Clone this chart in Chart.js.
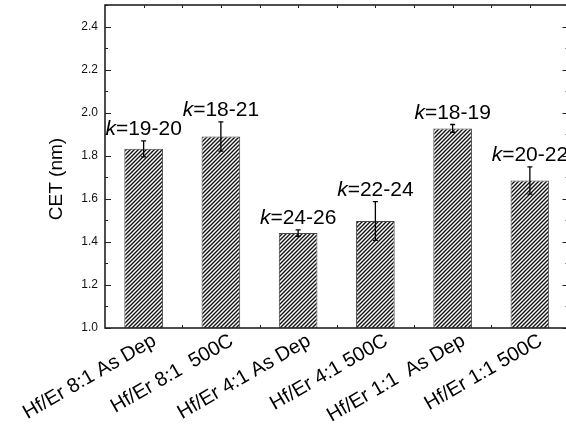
<!DOCTYPE html>
<html>
<head>
<meta charset="utf-8">
<script src="https://cdn.jsdelivr.net/npm/chart.js@4"></script>
<style>
  html, body { margin: 0; padding: 0; background: #fff; overflow: hidden; }
  #wrap { width: 572px; height: 431px; }
</style>
</head>
<body>
<div id="wrap"><canvas id="cetChart" width="572" height="431"></canvas></div>
<script>
const categories = [
  "Hf/Er 8:1 As Dep",
  "Hf/Er 8:1  500C",
  "Hf/Er 4:1 As Dep",
  "Hf/Er 4:1 500C",
  "Hf/Er 1:1  As Dep",
  "Hf/Er 1:1 500C",
];
const cetValues = [1.832, 1.889, 1.441, 1.497, 1.927, 1.685];
const cetErrors = [0.037, 0.068, 0.015, 0.09, 0.018, 0.063];
const kRanges = ["19-20", "18-21", "24-26", "22-24", "18-19", "20-22"];
const yTicks = [1.0, 1.2, 1.4, 1.6, 1.8, 2.0, 2.2, 2.4];

const FONT = "'Liberation Sans', Arial, sans-serif";

// hatch fill "////"
function makeHatch() {
  const p = document.createElement("canvas");
  p.width = 4;
  p.height = 4;
  const c = p.getContext("2d");
  c.fillStyle = "#fff";
  c.fillRect(0, 0, 4, 4);
  c.strokeStyle = "#111";
  c.lineWidth = 1.4;
  c.beginPath();
  c.moveTo(-1, 5); c.lineTo(5, -1);
  c.moveTo(-2, 2); c.lineTo(2, -2);
  c.moveTo(2, 6); c.lineTo(6, 2);
  c.stroke();
  return c.createPattern(p, "repeat");
}

// frame box + inward ticks
const framePlugin = {
  id: "frame",
  afterDatasetsDraw(chart) {
    const { ctx, chartArea: a, scales } = chart;
    const x = scales.x, y = scales.y;
    const step = x.getPixelForValue(1) - x.getPixelForValue(0);
    ctx.save();
    ctx.strokeStyle = "#222";
    ctx.lineWidth = 1;
    ctx.beginPath();
    for (let v = 1.0; v < 2.5 + 1e-6; v += 0.1) {
      const py = Math.round(y.getPixelForValue(v)) + 0.5;
      const major = Math.abs(v * 5 - Math.round(v * 5)) < 1e-6;
      const len = major ? 6 : 3;
      ctx.moveTo(a.left, py); ctx.lineTo(a.left + len, py);
      ctx.moveTo(a.right, py); ctx.lineTo(a.right - len, py);
    }
    for (let i = 0; i < categories.length; i++) {
      const cx = Math.round(x.getPixelForValue(i)) + 0.5;
      const bx = Math.round(x.getPixelForValue(i) + step / 2) + 0.5;
      ctx.moveTo(cx, a.top); ctx.lineTo(cx, a.top + 3);
      ctx.moveTo(bx, a.top); ctx.lineTo(bx, a.top + 3);
      ctx.moveTo(bx, a.bottom); ctx.lineTo(bx, a.bottom - 3);
    }
    ctx.stroke();
    ctx.lineWidth = 1.6;
    ctx.strokeRect(a.left, a.top, a.right - a.left, a.bottom - a.top);
    ctx.restore();
  },
};

// error bars + k labels + y title
const annotPlugin = {
  id: "annot",
  afterDatasetsDraw(chart) {
    const { ctx, scales } = chart;
    const y = scales.y;
    const meta = chart.getDatasetMeta(0);
    ctx.save();
    ctx.strokeStyle = "#000";
    ctx.lineWidth = 1.3;
    meta.data.forEach((bar, i) => {
      const top = y.getPixelForValue(cetValues[i] + cetErrors[i]);
      const bot = y.getPixelForValue(cetValues[i] - cetErrors[i]);
      ctx.beginPath();
      ctx.moveTo(bar.x, top); ctx.lineTo(bar.x, bot);
      ctx.moveTo(bar.x - 2.5, top); ctx.lineTo(bar.x + 2.5, top);
      ctx.moveTo(bar.x - 2.5, bot); ctx.lineTo(bar.x + 2.5, bot);
      ctx.stroke();

      // k=.. label
      const rest = "=" + kRanges[i];
      ctx.font = "italic 21px " + FONT;
      const wk = ctx.measureText("k").width;
      ctx.font = "21px " + FONT;
      const wr = ctx.measureText(rest).width;
      const x0 = bar.x - (wk + wr) / 2;
      const by = top - 6;
      ctx.fillStyle = "#000";
      ctx.textBaseline = "alphabetic";
      ctx.textAlign = "left";
      ctx.font = "italic 21px " + FONT;
      ctx.fillText("k", x0, by);
      ctx.font = "21px " + FONT;
      ctx.fillText(rest, x0 + wk, by);
    });

    ctx.translate(57, 179);
    ctx.rotate(-Math.PI / 2);
    ctx.font = "19px " + FONT;
    ctx.textAlign = "center";
    ctx.textBaseline = "middle";
    ctx.fillStyle = "#000";
    ctx.fillText("CET (nm)", 0, 0);
    ctx.restore();
  },
};

const ctx = document.getElementById("cetChart").getContext("2d");
new Chart(ctx, {
  type: "bar",
  data: {
    labels: categories,
    datasets: [
      {
        data: cetValues,
        backgroundColor: makeHatch(),
        borderColor: "#444",
        borderWidth: 1,
        categoryPercentage: 1,
        barPercentage: 0.5,
      },
    ],
  },
  options: {
    responsive: false,
    animation: false,
    layout: { padding: { left: 0, top: 5, right: 3.5, bottom: 0 } },
    plugins: {
      legend: { display: false },
      tooltip: { enabled: false },
    },
    scales: {
      x: {
        grid: { display: false, drawTicks: false },
        border: { display: false },
        ticks: {
          color: "#000",
          font: { family: FONT, size: 20 },
          minRotation: 30,
          maxRotation: 30,
          labelOffset: 11,
          padding: 1,
          autoSkip: false,
        },
        afterFit(s) {
          s.height = 103;
          s.paddingLeft = 0;
          s.paddingRight = 0;
        },
      },
      y: {
        min: 1.0,
        max: 2.5,
        grid: { display: false, drawTicks: false },
        border: { display: false },
        afterBuildTicks(s) {
          s.ticks = yTicks.map((v) => ({ value: v }));
        },
        ticks: {
          color: "#111",
          font: { family: FONT, size: 12 },
          padding: 7,
          callback: (v) => Number(v).toFixed(1),
        },
        afterFit(s) {
          s.width = 105;
          s.paddingTop = 0;
          s.paddingBottom = 0;
        },
      },
    },
  },
  plugins: [framePlugin, annotPlugin],
});
</script>
</body>
</html>
